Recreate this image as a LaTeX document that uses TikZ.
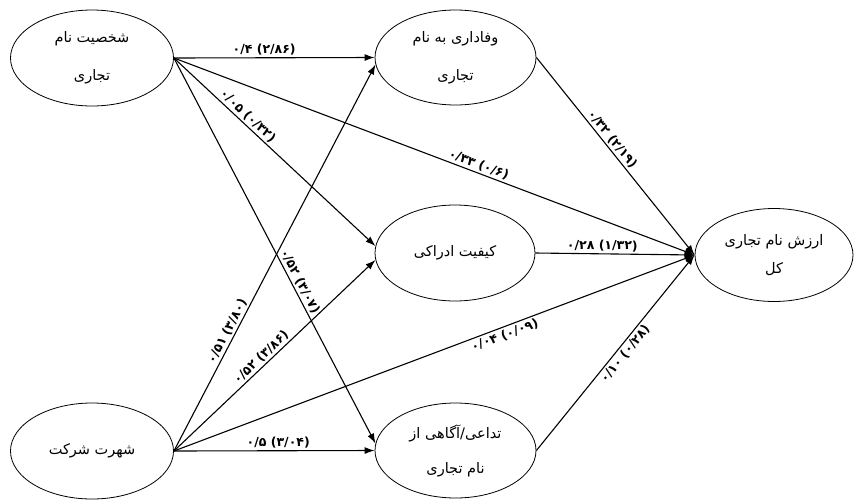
\documentclass[tikz,border=0pt]{standalone}
\usepackage{fontspec}
\usetikzlibrary{shapes.geometric,arrows.meta}
\TeXXeTstate=1
\newfontfamily\fa[Script=Arabic]{DejaVu Sans}
\newfontfamily\fanum{DejaVu Sans}
\begin{document}
\begin{tikzpicture}[x=1pt,y=-1pt,
  ell/.style={draw, ellipse, line width=0.8pt, inner sep=0pt, align=center,
    font=\fa\fontsize{14.5}{18}\selectfont},
  conn/.style={line width=1.1pt, -{Latex[length=10pt,width=7pt]}},
  lab/.style={sloped, font=\fanum\bfseries\fontsize{12.5}{14}\selectfont, inner sep=2pt}]
\useasboundingbox[fill=white] (0,0) rectangle (854,501);

\node[ell, minimum width=163pt, minimum height=96pt] (A) at (92,58)
  {\beginR شخصیت نام\endR\\[20pt]\beginR تجاری\endR};
\node[ell, minimum width=163pt, minimum height=96pt] (E) at (92,451)
  {\beginR شهرت شرکت\endR};
\node[ell, minimum width=161pt, minimum height=95pt] (B) at (455.5,57.5)
  {\beginR وفاداری به نام\endR\\[20pt]\beginR تجاری\endR};
\node[ell, minimum width=160pt, minimum height=96pt] (C) at (455,253)
  {\beginR کیفیت ادراکی\endR};
\node[ell, minimum width=161pt, minimum height=95pt] (D) at (455.5,450.5)
  {\beginR تداعی/آگاهی از\endR\\[17pt]\beginR نام تجاری\endR};
\node[ell, minimum width=158pt, minimum height=93pt] (F) at (774,255)
  {\beginR ارزش نام تجاری\endR\\[10pt]\beginR کل\endR};

\draw[conn] (A.east) -- node[lab,above,pos=0.45]{\beginR(۲/۸۶) ۰/۴\endR} (B.west);
\draw[conn] (A.east) -- node[lab,above,pos=0.34]{\beginR(۰/۳۲) ۰/۰۵\endR} (C.175);
\draw[conn] (A.east) -- node[lab,above,pos=0.58]{\beginR(۰/۶) ۰/۳۳\endR} (F.west);
\draw[conn] (A.east) -- node[lab,above,pos=0.59]{\beginR(۳/۰۷) ۰/۵۲\endR} (D.175);
\draw[conn] (E.east) -- node[lab,above,pos=0.30]{\beginR(۳/۸۰) ۰/۵۱\endR} (B.185);
\draw[conn] (E.east) -- node[lab,above,pos=0.46]{\beginR(۳/۸۶) ۰/۵۲\endR} (C.185);
\draw[conn] (E.east) -- node[lab,below,pos=0.63]{\beginR(۰/۰۹) ۰/۰۴\endR} (F.west);
\draw[conn] (E.east) -- node[lab,above,pos=0.52]{\beginR(۳/۰۴) ۰/۵\endR} (D.west);
\draw[conn] (B.east) -- node[lab,above,pos=0.44]{\beginR(۲/۱۹) ۰/۳۲\endR} (F.west);
\draw[conn] (C.east) -- node[lab,above,pos=0.42]{\beginR(۱/۳۲) ۰/۲۸\endR} (F.west);
\draw[conn] (D.east) -- node[lab,below,pos=0.52]{\beginR(۰/۲۸) ۰/۱۰\endR} (F.west);
\end{tikzpicture}
\end{document}
